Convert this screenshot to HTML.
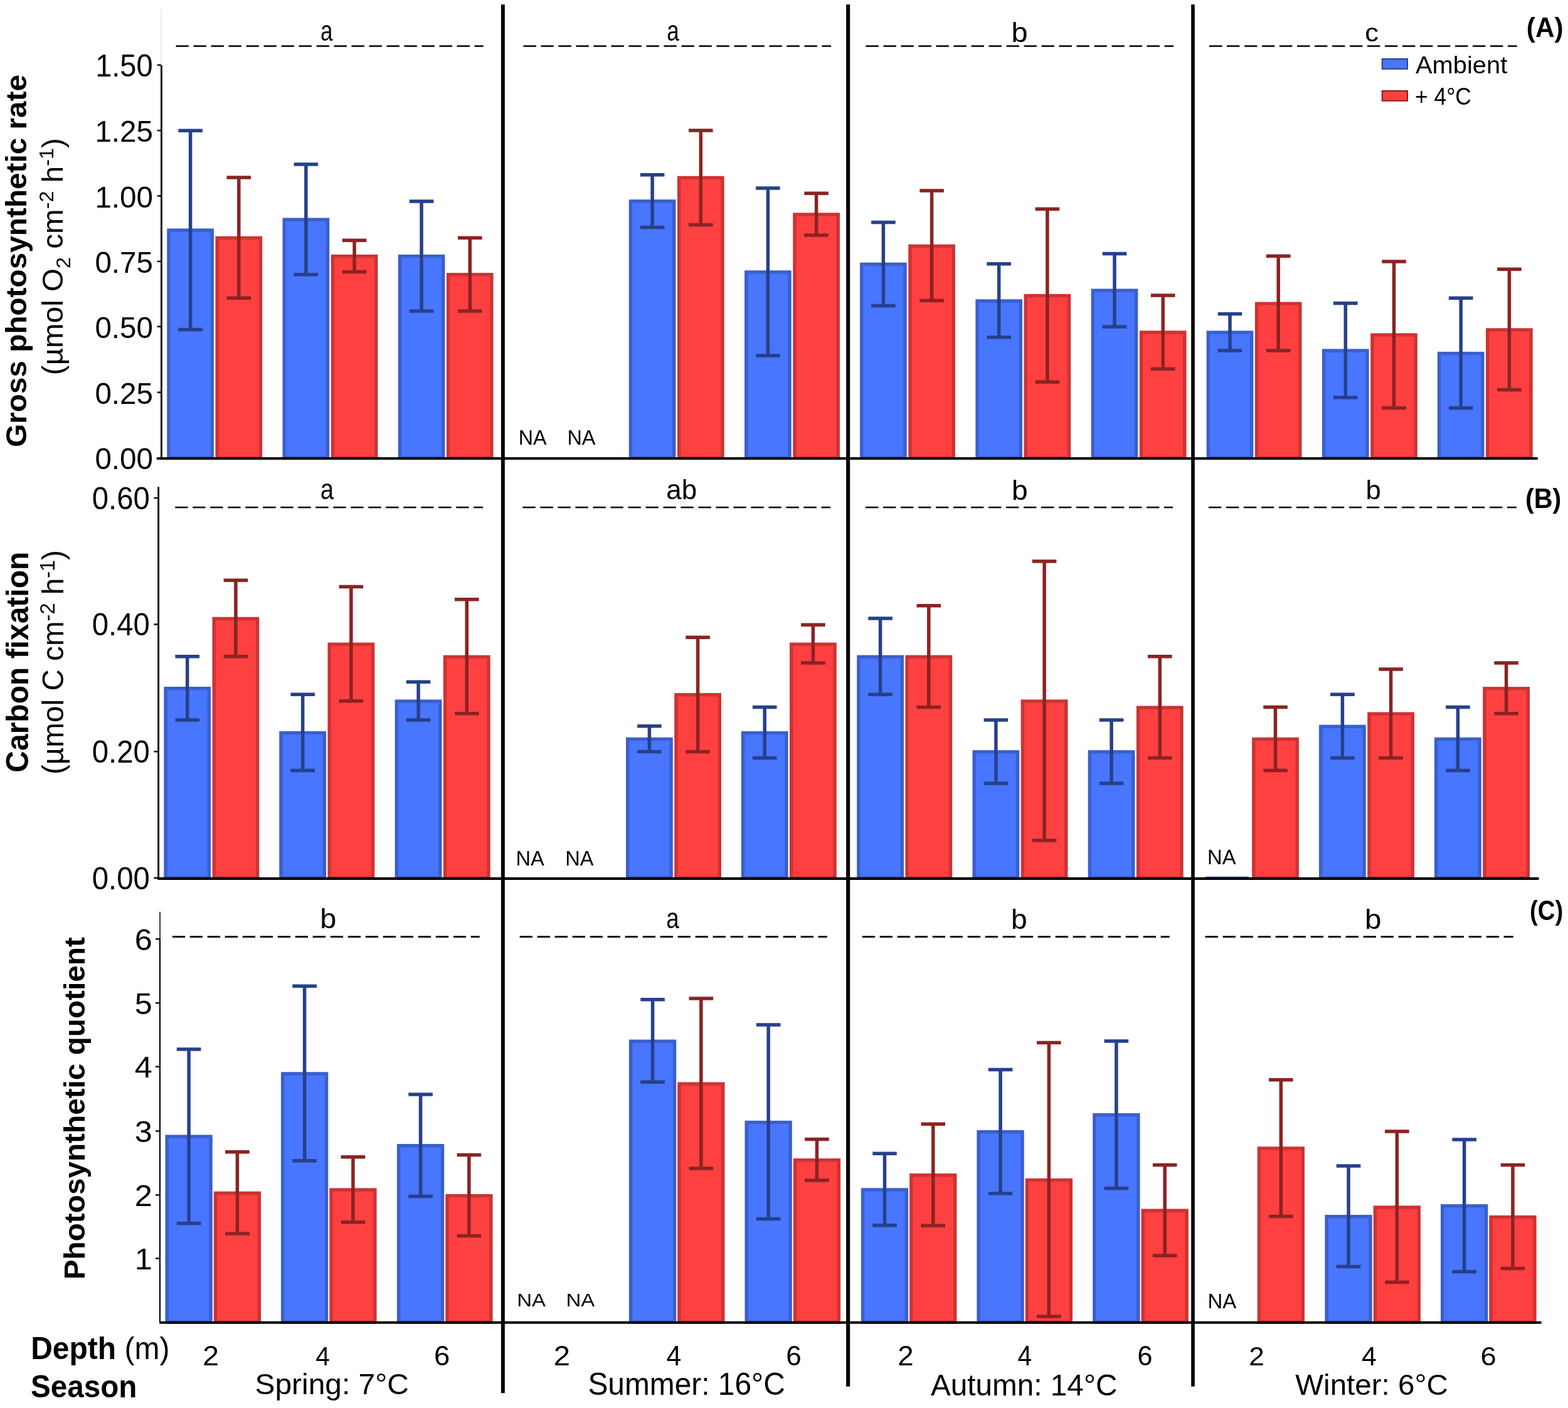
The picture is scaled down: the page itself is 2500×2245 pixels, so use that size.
<!DOCTYPE html>
<html><head><meta charset="utf-8"><title>Photosynthesis figure</title>
<style>
html,body{margin:0;padding:0;background:#fff;overflow:hidden;width:2500px;height:2245px;}
svg{display:block;}
text{font-family:"Liberation Sans", Arial, Helvetica, sans-serif;fill:#000;}
</style></head><body>
<svg width="2500" height="2245" viewBox="0 0 2500 2245">
<rect width="2500" height="2245" fill="#fff"/>
<rect x="268.95" y="367.07" width="69.3" height="362.93" fill="#4876FF" stroke="#3A5FCD" stroke-width="5.4"/>
<path d="M303.6 208.3V525.4M284.3 208.3H322.9M284.3 525.4H322.9" stroke="#27408B" stroke-width="5.5" fill="none"/>
<rect x="346.15" y="379.37" width="69.3" height="350.63" fill="#FF4040" stroke="#CD3333" stroke-width="5.4"/>
<path d="M380.8 283V475.3M361.5 283H400.1M361.5 475.3H400.1" stroke="#8B2323" stroke-width="5.5" fill="none"/>
<rect x="453.2" y="350.13" width="69.3" height="379.87" fill="#4876FF" stroke="#3A5FCD" stroke-width="5.4"/>
<path d="M487.85 262.1V437.8M468.55 262.1H507.15M468.55 437.8H507.15" stroke="#27408B" stroke-width="5.5" fill="none"/>
<rect x="530.4" y="408.6" width="69.3" height="321.4" fill="#FF4040" stroke="#CD3333" stroke-width="5.4"/>
<path d="M565.05 383.3V433.5M545.75 383.3H584.35M545.75 433.5H584.35" stroke="#8B2323" stroke-width="5.5" fill="none"/>
<rect x="637.4" y="408.6" width="69.3" height="321.4" fill="#4876FF" stroke="#3A5FCD" stroke-width="5.4"/>
<path d="M672.05 320.9V495.9M652.75 320.9H691.35M652.75 495.9H691.35" stroke="#27408B" stroke-width="5.5" fill="none"/>
<rect x="714.6" y="437.8" width="69.3" height="292.2" fill="#FF4040" stroke="#CD3333" stroke-width="5.4"/>
<path d="M749.25 379.3V495.9M729.95 379.3H768.55M729.95 495.9H768.55" stroke="#8B2323" stroke-width="5.5" fill="none"/>
<rect x="1005.45" y="320.82" width="69.3" height="409.18" fill="#4876FF" stroke="#3A5FCD" stroke-width="5.4"/>
<path d="M1040.1 278.7V362.4M1020.8 278.7H1059.4M1020.8 362.4H1059.4" stroke="#27408B" stroke-width="5.5" fill="none"/>
<rect x="1082.65" y="283.4" width="69.3" height="446.6" fill="#FF4040" stroke="#CD3333" stroke-width="5.4"/>
<path d="M1117.3 208V358.4M1098 208H1136.6M1098 358.4H1136.6" stroke="#8B2323" stroke-width="5.5" fill="none"/>
<rect x="1189.75" y="433.9" width="69.3" height="296.1" fill="#4876FF" stroke="#3A5FCD" stroke-width="5.4"/>
<path d="M1224.4 300V567M1205.1 300H1243.7M1205.1 567H1243.7" stroke="#27408B" stroke-width="5.5" fill="none"/>
<rect x="1266.95" y="341.97" width="69.3" height="388.03" fill="#FF4040" stroke="#CD3333" stroke-width="5.4"/>
<path d="M1301.6 308.3V375M1282.3 308.3H1320.9M1282.3 375H1320.9" stroke="#8B2323" stroke-width="5.5" fill="none"/>
<rect x="1373.75" y="421.35" width="69.3" height="308.65" fill="#4876FF" stroke="#3A5FCD" stroke-width="5.4"/>
<path d="M1408.4 354.4V487.6M1389.1 354.4H1427.7M1389.1 487.6H1427.7" stroke="#27408B" stroke-width="5.5" fill="none"/>
<rect x="1450.95" y="392.37" width="69.3" height="337.63" fill="#FF4040" stroke="#CD3333" stroke-width="5.4"/>
<path d="M1485.6 304V479.3M1466.3 304H1504.9M1466.3 479.3H1504.9" stroke="#8B2323" stroke-width="5.5" fill="none"/>
<rect x="1558.05" y="479.88" width="69.3" height="250.12" fill="#4876FF" stroke="#3A5FCD" stroke-width="5.4"/>
<path d="M1592.7 420.8V537.7M1573.4 420.8H1612M1573.4 537.7H1612" stroke="#27408B" stroke-width="5.5" fill="none"/>
<rect x="1635.25" y="471.47" width="69.3" height="258.53" fill="#FF4040" stroke="#CD3333" stroke-width="5.4"/>
<path d="M1669.9 333.2V609.1M1650.6 333.2H1689.2M1650.6 609.1H1689.2" stroke="#8B2323" stroke-width="5.5" fill="none"/>
<rect x="1742.35" y="463.15" width="69.3" height="266.85" fill="#4876FF" stroke="#3A5FCD" stroke-width="5.4"/>
<path d="M1777 404.5V521.1M1757.7 404.5H1796.3M1757.7 521.1H1796.3" stroke="#27408B" stroke-width="5.5" fill="none"/>
<rect x="1819.55" y="529.95" width="69.3" height="200.05" fill="#FF4040" stroke="#CD3333" stroke-width="5.4"/>
<path d="M1854.2 471V588.2M1834.9 471H1873.5M1834.9 588.2H1873.5" stroke="#8B2323" stroke-width="5.5" fill="none"/>
<rect x="1926.35" y="530.03" width="69.3" height="199.97" fill="#4876FF" stroke="#3A5FCD" stroke-width="5.4"/>
<path d="M1961 500.5V559M1941.7 500.5H1980.3M1941.7 559H1980.3" stroke="#27408B" stroke-width="5.5" fill="none"/>
<rect x="2003.55" y="484.15" width="69.3" height="245.85" fill="#FF4040" stroke="#CD3333" stroke-width="5.4"/>
<path d="M2038.2 408.2V559M2018.9 408.2H2057.5M2018.9 559H2057.5" stroke="#8B2323" stroke-width="5.5" fill="none"/>
<rect x="2110.65" y="559.08" width="69.3" height="170.92" fill="#4876FF" stroke="#3A5FCD" stroke-width="5.4"/>
<path d="M2145.3 483.6V633.7M2126 483.6H2164.6M2126 633.7H2164.6" stroke="#27408B" stroke-width="5.5" fill="none"/>
<rect x="2187.85" y="534.03" width="69.3" height="195.97" fill="#FF4040" stroke="#CD3333" stroke-width="5.4"/>
<path d="M2222.5 416.9V650.6M2203.2 416.9H2241.8M2203.2 650.6H2241.8" stroke="#8B2323" stroke-width="5.5" fill="none"/>
<rect x="2294.55" y="563.53" width="69.3" height="166.47" fill="#4876FF" stroke="#3A5FCD" stroke-width="5.4"/>
<path d="M2329.2 475.3V650.6M2309.9 475.3H2348.5M2309.9 650.6H2348.5" stroke="#27408B" stroke-width="5.5" fill="none"/>
<rect x="2371.75" y="525.95" width="69.3" height="204.05" fill="#FF4040" stroke="#CD3333" stroke-width="5.4"/>
<path d="M2406.4 429.2V621.4M2387.1 429.2H2425.7M2387.1 621.4H2425.7" stroke="#8B2323" stroke-width="5.5" fill="none"/>
<rect x="264" y="1097.65" width="69.4" height="302.35" fill="#4876FF" stroke="#3A5FCD" stroke-width="5.4"/>
<path d="M298.7 1046.7V1147.9M279.4 1046.7H318M279.4 1147.9H318" stroke="#27408B" stroke-width="5.5" fill="none"/>
<rect x="341.2" y="986.48" width="69.4" height="413.52" fill="#FF4040" stroke="#CD3333" stroke-width="5.4"/>
<path d="M375.9 925.2V1046.7M356.6 925.2H395.2M356.6 1046.7H395.2" stroke="#8B2323" stroke-width="5.5" fill="none"/>
<rect x="447.95" y="1168.5" width="69.4" height="231.5" fill="#4876FF" stroke="#3A5FCD" stroke-width="5.4"/>
<path d="M482.65 1107.3V1228.5M463.35 1107.3H501.95M463.35 1228.5H501.95" stroke="#27408B" stroke-width="5.5" fill="none"/>
<rect x="525.15" y="1027.25" width="69.4" height="372.75" fill="#FF4040" stroke="#CD3333" stroke-width="5.4"/>
<path d="M559.85 935.4V1117.8M540.55 935.4H579.15M540.55 1117.8H579.15" stroke="#8B2323" stroke-width="5.5" fill="none"/>
<rect x="632.35" y="1118.1" width="69.4" height="281.9" fill="#4876FF" stroke="#3A5FCD" stroke-width="5.4"/>
<path d="M667.05 1087.3V1147.9M647.75 1087.3H686.35M647.75 1147.9H686.35" stroke="#27408B" stroke-width="5.5" fill="none"/>
<rect x="709.55" y="1047.33" width="69.4" height="352.67" fill="#FF4040" stroke="#CD3333" stroke-width="5.4"/>
<path d="M744.25 955.7V1137.8M724.95 955.7H763.55M724.95 1137.8H763.55" stroke="#8B2323" stroke-width="5.5" fill="none"/>
<rect x="1000.7" y="1178.5" width="69.4" height="221.5" fill="#4876FF" stroke="#3A5FCD" stroke-width="5.4"/>
<path d="M1035.4 1157.8V1198.4M1016.1 1157.8H1054.7M1016.1 1198.4H1054.7" stroke="#27408B" stroke-width="5.5" fill="none"/>
<rect x="1077.9" y="1107.77" width="69.4" height="292.23" fill="#FF4040" stroke="#CD3333" stroke-width="5.4"/>
<path d="M1112.6 1016.3V1198.4M1093.3 1016.3H1131.9M1093.3 1198.4H1131.9" stroke="#8B2323" stroke-width="5.5" fill="none"/>
<rect x="1184.5" y="1168.58" width="69.4" height="231.42" fill="#4876FF" stroke="#3A5FCD" stroke-width="5.4"/>
<path d="M1219.2 1127.6V1208.5M1199.9 1127.6H1238.5M1199.9 1208.5H1238.5" stroke="#27408B" stroke-width="5.5" fill="none"/>
<rect x="1261.7" y="1027.25" width="69.4" height="372.75" fill="#FF4040" stroke="#CD3333" stroke-width="5.4"/>
<path d="M1296.4 996.3V1056.9M1277.1 996.3H1315.7M1277.1 1056.9H1315.7" stroke="#8B2323" stroke-width="5.5" fill="none"/>
<rect x="1368.9" y="1047.3" width="69.4" height="352.7" fill="#4876FF" stroke="#3A5FCD" stroke-width="5.4"/>
<path d="M1403.6 986.1V1107.3M1384.3 986.1H1422.9M1384.3 1107.3H1422.9" stroke="#27408B" stroke-width="5.5" fill="none"/>
<rect x="1446.1" y="1047.3" width="69.4" height="352.7" fill="#FF4040" stroke="#CD3333" stroke-width="5.4"/>
<path d="M1480.8 965.8V1127.6M1461.5 965.8H1500.1M1461.5 1127.6H1500.1" stroke="#8B2323" stroke-width="5.5" fill="none"/>
<rect x="1553.2" y="1198.85" width="69.4" height="201.15" fill="#4876FF" stroke="#3A5FCD" stroke-width="5.4"/>
<path d="M1587.9 1147.9V1249.1M1568.6 1147.9H1607.2M1568.6 1249.1H1607.2" stroke="#27408B" stroke-width="5.5" fill="none"/>
<rect x="1630.4" y="1118.05" width="69.4" height="281.95" fill="#FF4040" stroke="#CD3333" stroke-width="5.4"/>
<path d="M1665.1 895.1V1339.9M1645.8 895.1H1684.4M1645.8 1339.9H1684.4" stroke="#8B2323" stroke-width="5.5" fill="none"/>
<rect x="1737.4" y="1198.85" width="69.4" height="201.15" fill="#4876FF" stroke="#3A5FCD" stroke-width="5.4"/>
<path d="M1772.1 1147.9V1249.1M1752.8 1147.9H1791.4M1752.8 1249.1H1791.4" stroke="#27408B" stroke-width="5.5" fill="none"/>
<rect x="1814.6" y="1128.2" width="69.4" height="271.8" fill="#FF4040" stroke="#CD3333" stroke-width="5.4"/>
<path d="M1849.3 1046.7V1208.5M1830 1046.7H1868.6M1830 1208.5H1868.6" stroke="#8B2323" stroke-width="5.5" fill="none"/>
<rect x="1921.9" y="1397.6" width="68.8" height="1.6" fill="#3A5FCD"/>
<rect x="1998.8" y="1178.48" width="69.4" height="221.52" fill="#FF4040" stroke="#CD3333" stroke-width="5.4"/>
<path d="M2033.5 1127.6V1228.5M2014.2 1127.6H2052.8M2014.2 1228.5H2052.8" stroke="#8B2323" stroke-width="5.5" fill="none"/>
<rect x="2105.7" y="1158.4" width="69.4" height="241.6" fill="#4876FF" stroke="#3A5FCD" stroke-width="5.4"/>
<path d="M2140.4 1107.3V1208.5M2121.1 1107.3H2159.7M2121.1 1208.5H2159.7" stroke="#27408B" stroke-width="5.5" fill="none"/>
<rect x="2182.9" y="1138.17" width="69.4" height="261.83" fill="#FF4040" stroke="#CD3333" stroke-width="5.4"/>
<path d="M2217.6 1067V1208.5M2198.3 1067H2236.9M2198.3 1208.5H2236.9" stroke="#8B2323" stroke-width="5.5" fill="none"/>
<rect x="2289.7" y="1178.48" width="69.4" height="221.52" fill="#4876FF" stroke="#3A5FCD" stroke-width="5.4"/>
<path d="M2324.4 1127.6V1228.5M2305.1 1127.6H2343.7M2305.1 1228.5H2343.7" stroke="#27408B" stroke-width="5.5" fill="none"/>
<rect x="2366.9" y="1097.83" width="69.4" height="302.17" fill="#FF4040" stroke="#CD3333" stroke-width="5.4"/>
<path d="M2401.6 1056.9V1137.8M2382.3 1056.9H2420.9M2382.3 1137.8H2420.9" stroke="#8B2323" stroke-width="5.5" fill="none"/>
<rect x="266.15" y="1812.12" width="69.9" height="295.88" fill="#4876FF" stroke="#3A5FCD" stroke-width="5.4"/>
<path d="M301.1 1672.9V1950.6M281.8 1672.9H320.4M281.8 1950.6H320.4" stroke="#27408B" stroke-width="5.5" fill="none"/>
<rect x="343.45" y="1902.4" width="69.9" height="205.6" fill="#FF4040" stroke="#CD3333" stroke-width="5.4"/>
<path d="M378.4 1836.8V1967M359.1 1836.8H397.7M359.1 1967H397.7" stroke="#8B2323" stroke-width="5.5" fill="none"/>
<rect x="450.65" y="1712" width="69.9" height="396" fill="#4876FF" stroke="#3A5FCD" stroke-width="5.4"/>
<path d="M485.6 1572.3V1850.7M466.3 1572.3H504.9M466.3 1850.7H504.9" stroke="#27408B" stroke-width="5.5" fill="none"/>
<rect x="527.95" y="1897.1" width="69.9" height="210.9" fill="#FF4040" stroke="#CD3333" stroke-width="5.4"/>
<path d="M562.9 1844.8V1948.8M543.6 1844.8H582.2M543.6 1948.8H582.2" stroke="#8B2323" stroke-width="5.5" fill="none"/>
<rect x="635.6" y="1826.73" width="69.9" height="281.27" fill="#4876FF" stroke="#3A5FCD" stroke-width="5.4"/>
<path d="M670.55 1744.9V1907.6M651.25 1744.9H689.85M651.25 1907.6H689.85" stroke="#27408B" stroke-width="5.5" fill="none"/>
<rect x="712.9" y="1906.62" width="69.9" height="201.38" fill="#FF4040" stroke="#CD3333" stroke-width="5.4"/>
<path d="M747.85 1841.5V1970.6M728.55 1841.5H767.15M728.55 1970.6H767.15" stroke="#8B2323" stroke-width="5.5" fill="none"/>
<rect x="1005.6" y="1660.3" width="69.9" height="447.7" fill="#4876FF" stroke="#3A5FCD" stroke-width="5.4"/>
<path d="M1040.55 1593.8V1725.2M1021.25 1593.8H1059.85M1021.25 1725.2H1059.85" stroke="#27408B" stroke-width="5.5" fill="none"/>
<rect x="1082.9" y="1728.15" width="69.9" height="379.85" fill="#FF4040" stroke="#CD3333" stroke-width="5.4"/>
<path d="M1117.85 1592V1863M1098.55 1592H1137.15M1098.55 1863H1137.15" stroke="#8B2323" stroke-width="5.5" fill="none"/>
<rect x="1190.2" y="1789.58" width="69.9" height="318.42" fill="#4876FF" stroke="#3A5FCD" stroke-width="5.4"/>
<path d="M1225.15 1634.1V1943.6M1205.85 1634.1H1244.45M1205.85 1943.6H1244.45" stroke="#27408B" stroke-width="5.5" fill="none"/>
<rect x="1267.5" y="1849.77" width="69.9" height="258.23" fill="#FF4040" stroke="#CD3333" stroke-width="5.4"/>
<path d="M1302.45 1816.5V1882M1283.15 1816.5H1321.75M1283.15 1882H1321.75" stroke="#8B2323" stroke-width="5.5" fill="none"/>
<rect x="1375.55" y="1896.95" width="69.9" height="211.05" fill="#4876FF" stroke="#3A5FCD" stroke-width="5.4"/>
<path d="M1410.5 1839.3V1953.7M1391.2 1839.3H1429.8M1391.2 1953.7H1429.8" stroke="#27408B" stroke-width="5.5" fill="none"/>
<rect x="1452.85" y="1873.77" width="69.9" height="234.23" fill="#FF4040" stroke="#CD3333" stroke-width="5.4"/>
<path d="M1487.8 1792.2V1954.3M1468.5 1792.2H1507.1M1468.5 1954.3H1507.1" stroke="#8B2323" stroke-width="5.5" fill="none"/>
<rect x="1560.15" y="1804.67" width="69.9" height="303.33" fill="#4876FF" stroke="#3A5FCD" stroke-width="5.4"/>
<path d="M1595.1 1705.5V1903M1575.8 1705.5H1614.4M1575.8 1903H1614.4" stroke="#27408B" stroke-width="5.5" fill="none"/>
<rect x="1637.45" y="1881.63" width="69.9" height="226.37" fill="#FF4040" stroke="#CD3333" stroke-width="5.4"/>
<path d="M1672.4 1662.4V2098.9M1653.1 1662.4H1691.7M1653.1 2098.9H1691.7" stroke="#8B2323" stroke-width="5.5" fill="none"/>
<rect x="1744.95" y="1777.67" width="69.9" height="330.33" fill="#4876FF" stroke="#3A5FCD" stroke-width="5.4"/>
<path d="M1779.9 1660V1894.7M1760.6 1660H1799.2M1760.6 1894.7H1799.2" stroke="#27408B" stroke-width="5.5" fill="none"/>
<rect x="1822.25" y="1930.15" width="69.9" height="177.85" fill="#FF4040" stroke="#CD3333" stroke-width="5.4"/>
<path d="M1857.2 1857.4V2002M1837.9 1857.4H1876.5M1837.9 2002H1876.5" stroke="#8B2323" stroke-width="5.5" fill="none"/>
<rect x="2007.4" y="1830.95" width="69.9" height="277.05" fill="#FF4040" stroke="#CD3333" stroke-width="5.4"/>
<path d="M2042.35 1721.8V1939.4M2023.05 1721.8H2061.65M2023.05 1939.4H2061.65" stroke="#8B2323" stroke-width="5.5" fill="none"/>
<rect x="2115.1" y="1939.73" width="69.9" height="168.27" fill="#4876FF" stroke="#3A5FCD" stroke-width="5.4"/>
<path d="M2150.05 1859.1V2019.4M2130.75 1859.1H2169.35M2130.75 2019.4H2169.35" stroke="#27408B" stroke-width="5.5" fill="none"/>
<rect x="2192.4" y="1925.05" width="69.9" height="182.95" fill="#FF4040" stroke="#CD3333" stroke-width="5.4"/>
<path d="M2227.35 1804V2044.6M2208.05 1804H2246.65M2208.05 2044.6H2246.65" stroke="#8B2323" stroke-width="5.5" fill="none"/>
<rect x="2299.7" y="1922.8" width="69.9" height="185.2" fill="#4876FF" stroke="#3A5FCD" stroke-width="5.4"/>
<path d="M2334.65 1816.9V2027.7M2315.35 1816.9H2353.95M2315.35 2027.7H2353.95" stroke="#27408B" stroke-width="5.5" fill="none"/>
<rect x="2377" y="1940.6" width="69.9" height="167.4" fill="#FF4040" stroke="#CD3333" stroke-width="5.4"/>
<path d="M2411.95 1857.5V2022.5M2392.65 1857.5H2431.25M2392.65 2022.5H2431.25" stroke="#8B2323" stroke-width="5.5" fill="none"/>
<path d="M249.8 731H2450.2" stroke="#000" stroke-width="4" fill="none"/><circle cx="2450.2" cy="731" r="2" fill="#000"/>
<path d="M251.2 1400.8H2452" stroke="#000" stroke-width="4.2" fill="none"/><circle cx="2452" cy="1400.8" r="2.1" fill="#000"/>
<rect x="245.4" y="1398.6" width="6.2" height="2.6" fill="#000"/>
<path d="M254.2 2108.7H2456" stroke="#000" stroke-width="4" fill="none"/><circle cx="2456" cy="2108.7" r="2" fill="#000"/>
<rect x="256.2" y="15" width="1.5" height="89" fill="#e6e6e6"/>
<rect x="256.0" y="104" width="2.8" height="627" fill="#000"/>
<rect x="251.2" y="776.3" width="2.8" height="624" fill="#000"/>
<rect x="254.3" y="1453.8" width="1.5" height="44" fill="#000"/>
<rect x="253.9" y="1496" width="2.1" height="612" fill="#000"/>
<rect x="250.7" y="102.5" width="6" height="2.4" fill="#000"/>
<rect x="250.7" y="206.9" width="6" height="2.4" fill="#000"/>
<rect x="250.7" y="311.2" width="6" height="2.4" fill="#000"/>
<rect x="250.7" y="415.6" width="6" height="2.4" fill="#000"/>
<rect x="250.7" y="519.5" width="6" height="2.4" fill="#000"/>
<rect x="250.7" y="624.4" width="6" height="2.4" fill="#000"/>
<rect x="245.4" y="792.8" width="6.2" height="2.4" fill="#000"/>
<rect x="245.4" y="994.3" width="6.2" height="2.4" fill="#000"/>
<rect x="245.4" y="1197.2" width="6.2" height="2.4" fill="#000"/>
<rect x="248.0" y="1496" width="6.4" height="2.4" fill="#000"/>
<rect x="248.0" y="1598" width="6.4" height="2.4" fill="#000"/>
<rect x="248.0" y="1699.6" width="6.4" height="2.4" fill="#000"/>
<rect x="248.0" y="1802.3" width="6.4" height="2.4" fill="#000"/>
<rect x="248.0" y="1904.2" width="6.4" height="2.4" fill="#000"/>
<rect x="248.0" y="2005.3" width="6.4" height="2.4" fill="#000"/>
<rect x="798.9" y="7.2" width="5.9" height="2214" fill="#000"/>
<rect x="1349.1" y="7.2" width="6.1" height="2203.5" fill="#000"/>
<rect x="1899.2" y="7.2" width="5.6" height="2203.5" fill="#000"/>
<path d="M280.5 73.5H770.7" stroke="#000" stroke-width="2.6" stroke-dasharray="20.4 7.6" fill="none"/>
<path d="M834.4 73.5H1325.1" stroke="#000" stroke-width="2.6" stroke-dasharray="20.4 7.6" fill="none"/>
<path d="M1380.5 73.5H1871.2" stroke="#000" stroke-width="2.6" stroke-dasharray="20.4 7.6" fill="none"/>
<path d="M1928 73.5H2418.6" stroke="#000" stroke-width="2.6" stroke-dasharray="20.4 7.6" fill="none"/>
<path d="M279.2 809H770.1" stroke="#000" stroke-width="2.6" stroke-dasharray="20.4 7.6" fill="none"/>
<path d="M833.4 809H1324.1" stroke="#000" stroke-width="2.6" stroke-dasharray="20.4 7.6" fill="none"/>
<path d="M1380 809H1870.1" stroke="#000" stroke-width="2.6" stroke-dasharray="20.4 7.6" fill="none"/>
<path d="M1926.9 809H2417.9" stroke="#000" stroke-width="2.6" stroke-dasharray="20.4 7.6" fill="none"/>
<path d="M274.7 1493.6H764.8" stroke="#000" stroke-width="2.6" stroke-dasharray="20.4 7.6" fill="none"/>
<path d="M828.6 1493.6H1318.8" stroke="#000" stroke-width="2.6" stroke-dasharray="20.4 7.6" fill="none"/>
<path d="M1374.7 1493.6H1864.8" stroke="#000" stroke-width="2.6" stroke-dasharray="20.4 7.6" fill="none"/>
<path d="M1921.6 1493.6H2412.9" stroke="#000" stroke-width="2.6" stroke-dasharray="20.4 7.6" fill="none"/>
<rect x="2203.8" y="94" width="40.2" height="15.9" fill="#4876FF" stroke="#27408B" stroke-width="2"/>
<rect x="2203.8" y="144.9" width="40.2" height="15.8" fill="#FF4040" stroke="#8B1A1A" stroke-width="2"/>
<text id="ya150" transform="translate(243.6 121.98) scale(1.0000 1.0634)" font-size="47" text-anchor="end">1.50</text>
<text id="ya125" transform="translate(243.93 226.39) scale(1.0116 1.0263)" font-size="47" text-anchor="end">1.25</text>
<text id="ya100" transform="translate(243.93 330.69) scale(1.0116 1.0263)" font-size="47" text-anchor="end">1.00</text>
<text id="ya075" transform="translate(243.93 435.09) scale(1.0116 1.0263)" font-size="47" text-anchor="end">0.75</text>
<text id="ya050" transform="translate(243.93 538.99) scale(1.0116 1.0263)" font-size="47" text-anchor="end">0.50</text>
<text id="ya025" transform="translate(243.93 643.89) scale(1.0116 1.0263)" font-size="47" text-anchor="end">0.25</text>
<text id="ya000" transform="translate(243.93 747.78) scale(1.0116 1.0263)" font-size="47" text-anchor="end">0.00</text>
<text id="yb060" transform="translate(238.71 811.87) scale(1.0058 1.0567)" font-size="47" text-anchor="end">0.60</text>
<text id="yb040" transform="translate(238.71 1013.37) scale(1.0058 1.0567)" font-size="47" text-anchor="end">0.40</text>
<text id="yb020" transform="translate(238.71 1216.27) scale(1.0058 1.0567)" font-size="47" text-anchor="end">0.20</text>
<text id="yb000" transform="translate(238.71 1418.47) scale(1.0058 1.0567)" font-size="47" text-anchor="end">0.00</text>
<text id="yc6" transform="translate(242.76 1514.52) scale(1.0719 1.0355)" font-size="47" text-anchor="end">6</text>
<text id="yc5" transform="translate(242.76 1616.52) scale(1.0719 1.0355)" font-size="47" text-anchor="end">5</text>
<text id="yc4" transform="translate(242.76 1718.12) scale(1.0719 1.0355)" font-size="47" text-anchor="end">4</text>
<text id="yc3" transform="translate(242.76 1820.82) scale(1.0719 1.0355)" font-size="47" text-anchor="end">3</text>
<text id="yc2" transform="translate(242.76 1922.72) scale(1.0719 1.0355)" font-size="47" text-anchor="end">2</text>
<text id="yc1" transform="translate(242.76 2023.82) scale(1.0719 1.0355)" font-size="47" text-anchor="end">1</text>
<text id="xt02" transform="translate(336.2 2177.21) scale(1.0769 1.0356)" font-size="43" text-anchor="middle">2</text>
<text id="xt04" transform="translate(514.49 2176.51) scale(0.9461 1.0081)" font-size="43" text-anchor="middle">4</text>
<text id="xt06" transform="translate(704.7 2177.28) scale(1.0559 1.0356)" font-size="43" text-anchor="middle">6</text>
<text id="xt12" transform="translate(895.8 2176.89) scale(1.0981 1.0460)" font-size="43" text-anchor="middle">2</text>
<text id="xt14" transform="translate(1074.39 2176.89) scale(0.9960 1.0460)" font-size="43" text-anchor="middle">4</text>
<text id="xt16" transform="translate(1265.49 2176.89) scale(1.0256 1.0460)" font-size="43" text-anchor="middle">6</text>
<text id="xt22" transform="translate(1444 2176.79) scale(1.0612 1.0253)" font-size="43" text-anchor="middle">2</text>
<text id="xt24" transform="translate(1633.9 2176.79) scale(0.9461 1.0253)" font-size="43" text-anchor="middle">4</text>
<text id="xt26" transform="translate(1825.6 2176.79) scale(1.0025 1.0253)" font-size="43" text-anchor="middle">6</text>
<text id="xt32" transform="translate(2003.6 2177.19) scale(1.0303 0.9883)" font-size="43" text-anchor="middle">2</text>
<text id="xt34" transform="translate(2182.8 2177.19) scale(0.9960 0.9883)" font-size="43" text-anchor="middle">4</text>
<text id="xt36" transform="translate(2373.07 2177.19) scale(1.0559 0.9883)" font-size="43" text-anchor="middle">6</text>
<text id="season0" transform="translate(529.2 2223.18) scale(1.0039 0.9514)" font-size="47.7" text-anchor="middle">Spring: 7°C</text>
<text id="season1" transform="translate(1094.6 2224.2) scale(1.0032 1.0368)" font-size="47.7" text-anchor="middle">Summer: 16°C</text>
<text id="season2" transform="translate(1632.7 2224.69) scale(1.0000 1.0221)" font-size="47.7" text-anchor="middle">Autumn: 14°C</text>
<text id="season3" transform="translate(2186.99 2223.97) scale(0.9968 0.9523)" font-size="47.7" text-anchor="middle">Winter: 6°C</text>
<text id="depth" transform="translate(49.14 2167.37) scale(1.0214 1.0433)" font-size="47" text-anchor="start"><tspan font-weight="bold">Depth</tspan> (m)</text>
<text id="seasonlab" transform="translate(48.98 2227.63) scale(1.0030 1.0680)" font-size="47.5" text-anchor="start" font-weight="bold">Season</text>
<text id="naA1" transform="translate(849.2 709) scale(1.0072 1.0455)" font-size="32" text-anchor="middle">NA</text>
<text id="naA2" transform="translate(926.98 709) scale(1.0144 1.0455)" font-size="32" text-anchor="middle">NA</text>
<text id="naB1" transform="translate(845.07 1380.19) scale(1.0172 1.0455)" font-size="32" text-anchor="middle">NA</text>
<text id="naB2" transform="translate(923.82 1380.19) scale(1.0172 1.0455)" font-size="32" text-anchor="middle">NA</text>
<text id="naB3" transform="translate(1947.77 1378.22) scale(1.0250 1.0592)" font-size="32" text-anchor="middle">NA</text>
<text id="naC1" transform="translate(847.06 2082.61) scale(1.0317 0.9334)" font-size="32" text-anchor="middle">NA</text>
<text id="naC2" transform="translate(925.46 2082.61) scale(1.0317 0.9334)" font-size="32" text-anchor="middle">NA</text>
<text id="naC3" transform="translate(1948.37 2086) scale(1.0310 1.0232)" font-size="32" text-anchor="middle">NA</text>
<text id="lA1" transform="translate(520.72 65) scale(0.8146 1.0566)" font-size="43" text-anchor="middle">a</text>
<text id="lA2" transform="translate(1072.92 65) scale(0.8146 1.0566)" font-size="43" text-anchor="middle">a</text>
<text id="lA3" transform="translate(1625.47 66.5) scale(1.0896 1.0419)" font-size="43" text-anchor="middle">b</text>
<text id="lA4" transform="translate(2187.13 65.62) scale(1.0099 0.9436)" font-size="43" text-anchor="middle">c</text>
<text id="lB1" transform="translate(521.49 795.98) scale(0.8912 1.0656)" font-size="43" text-anchor="middle">a</text>
<text id="lB2" transform="translate(1086.7 795.96) scale(1.0206 1.0178)" font-size="43" text-anchor="middle">ab</text>
<text id="lB3" transform="translate(1625.87 796.78) scale(1.0740 1.0323)" font-size="43" text-anchor="middle">b</text>
<text id="lB4" transform="translate(2189.72 795.59) scale(1.0132 1.0067)" font-size="43" text-anchor="middle">b</text>
<text id="lC1" transform="translate(523.24 1480) scale(1.0873 1.0323)" font-size="43" text-anchor="middle">b</text>
<text id="lC2" transform="translate(1072.48 1480) scale(0.8553 1.0656)" font-size="43" text-anchor="middle">a</text>
<text id="lC3" transform="translate(1624.83 1480.9) scale(1.0740 1.0323)" font-size="43" text-anchor="middle">b</text>
<text id="lC4" transform="translate(2189.22 1480.58) scale(1.1053 1.0323)" font-size="43" text-anchor="middle">b</text>
<text id="pA" transform="translate(2463.19 59.06) scale(0.9828 1.0529)" font-size="43" text-anchor="middle" font-weight="bold">(A)</text>
<text id="pB" transform="translate(2460.69 809.59) scale(0.9603 1.0223)" font-size="43" text-anchor="middle" font-weight="bold">(B)</text>
<text id="pC" transform="translate(2465.7 1467.44) scale(0.8928 1.0400)" font-size="43" text-anchor="middle" font-weight="bold">(C)</text>
<text id="legA" transform="translate(2256.98 116.84) scale(1.0497 1.0051)" font-size="38" text-anchor="start">Ambient</text>
<text id="legR" transform="translate(2256.1 167.19) scale(0.9292 1.0042)" font-size="38" text-anchor="start">+ 4°C</text>
<text id="tA1" transform="translate(42.16 415.91) rotate(-90) scale(1.0155 0.9845)" font-size="47" text-anchor="middle" font-weight="bold">Gross photosynthetic rate</text>
<text id="tA2" transform="translate(99.99 409.2) rotate(-90) scale(1.0125 1.0004)" font-size="47" text-anchor="middle">(µmol O<tspan font-size="32" dy="11.7">2</tspan><tspan dy="-11.7"> cm</tspan><tspan font-size="32" dy="-14.5">-2</tspan><tspan dy="14.5"> h</tspan><tspan font-size="32" dy="-14.5">-1</tspan><tspan dy="14.5">)</tspan></text>
<text id="tB1" transform="translate(44.6 1055.69) rotate(-90) scale(1.0215 1.0443)" font-size="47" text-anchor="middle" font-weight="bold">Carbon fixation</text>
<text id="tB2" transform="translate(101.48 1056) rotate(-90) scale(1.0146 1.0107)" font-size="47" text-anchor="middle">(µmol C cm<tspan font-size="32" dy="-14.5">-2</tspan><tspan dy="14.5"> h</tspan><tspan font-size="32" dy="-14.5">-1</tspan><tspan dy="14.5">)</tspan></text>
<text id="tC1" transform="translate(134.52 1767.22) rotate(-90) scale(1.0156 0.9865)" font-size="47" text-anchor="middle" font-weight="bold">Photosynthetic quotient</text>
</svg>
</body></html>
